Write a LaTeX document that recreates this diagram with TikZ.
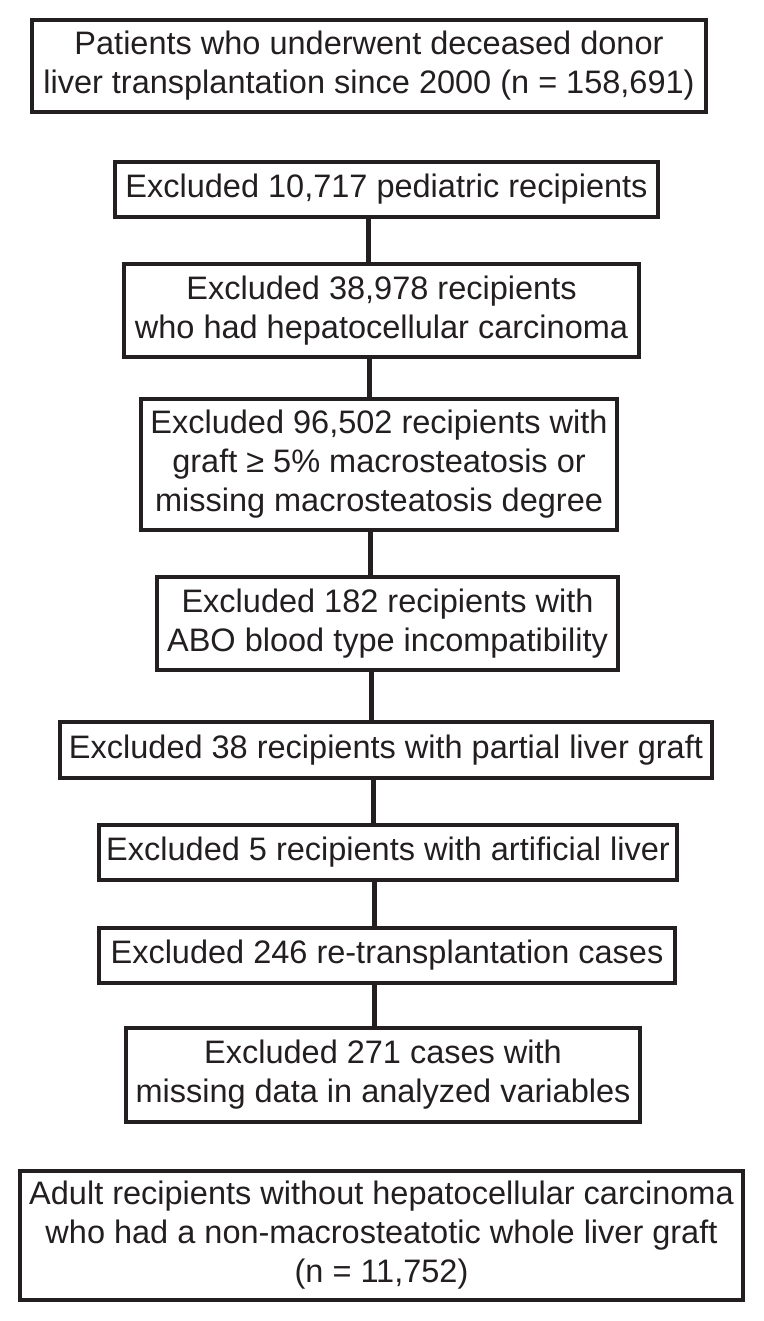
\documentclass[tikz,border=0pt]{standalone}
\usepackage{fontspec}
\setmainfont{Liberation Sans}
\definecolor{ink}{HTML}{231F20}
\begin{document}
\begin{tikzpicture}[x=1pt,y=-1pt,
  box/.style={draw=ink, line width=3.3pt, fill=white, inner sep=0pt, align=center,
    text=ink, font=\fontsize{32.5}{39}\selectfont},
  link/.style={draw=ink, line width=5pt}]
\useasboundingbox[fill=white] (0,0) rectangle (763,1321);
\node[box, minimum width=674pt, minimum height=92pt] (t) at (369,66)
  {Patients who underwent deceased donor\\liver transplantation since 2000 (n = 158,691)};
\node[box, minimum width=543pt, minimum height=55pt] (b2) at (386.5,189.5)
  {Excluded 10,717 pediatric recipients};
\node[box, minimum width=515pt, minimum height=93pt] (b3) at (381.5,310.5)
  {Excluded 38,978 recipients\\who had hepatocellular carcinoma};
\node[box, minimum width=476pt, minimum height=131pt] (b4) at (379,464.5)
  {Excluded 96,502 recipients with\\graft ≥ 5\% macrosteatosis or\\missing macrosteatosis degree};
\node[box, minimum width=461pt, minimum height=93pt] (b5) at (387.5,623.5)
  {Excluded 182 recipients with\\ABO blood type incompatibility};
\node[box, minimum width=652pt, minimum height=56pt] (b6) at (386,750)
  {Excluded 38 recipients with partial liver graft};
\node[box, minimum width=578pt, minimum height=55pt] (b7) at (388,852.5)
  {Excluded 5 recipients with artificial liver};
\node[box, minimum width=576pt, minimum height=55pt] (b8) at (387,955.5)
  {Excluded 246 re-transplantation cases};
\node[box, minimum width=514pt, minimum height=94pt] (b9) at (383,1075)
  {Excluded 271 cases with\\missing data in analyzed variables};
\node[box, minimum width=723pt, minimum height=129pt] (f) at (381.5,1235.5)
  {Adult recipients without hepatocellular carcinoma\\who had a non-macrosteatotic whole liver graft\\(n = 11,752)};
\begin{scope}[on background layer/.try]
\end{scope}
\draw[link] (b2.south -| 368,0) -- (b3.north -| 368,0);
\draw[link] (b3.south -| 369,0) -- (b4.north -| 369,0);
\draw[link] (b4.south -| 370,0) -- (b5.north -| 370,0);
\draw[link] (b5.south -| 371,0) -- (b6.north -| 371,0);
\draw[link] (b6.south -| 373,0) -- (b7.north -| 373,0);
\draw[link] (b7.south -| 374,0) -- (b8.north -| 374,0);
\draw[link] (b8.south -| 374,0) -- (b9.north -| 374,0);
\end{tikzpicture}
\end{document}
